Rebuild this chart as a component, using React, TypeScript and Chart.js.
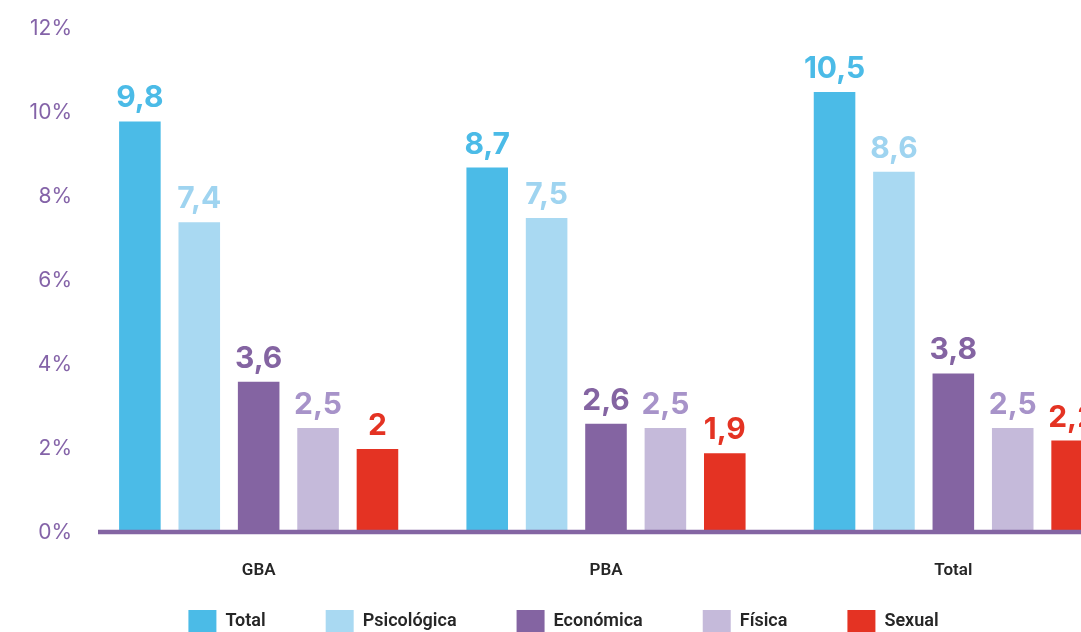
import React, { useEffect, useRef } from "react";
import { Chart, registerables } from "chart.js";

Chart.register(...registerables);

const categories = ["GBA", "PBA", "Total"];
const seriesNames = ["Total", "Psicológica", "Económica", "Física", "Sexual"];
const totalValues = [9.8, 8.7, 10.5];
const psicologicaValues = [7.4, 7.5, 8.6];
const economicaValues = [3.6, 2.6, 3.8];
const fisicaValues = [2.5, 2.5, 2.5];
const sexualValues = [2, 1.9, 2.2];
const yTicks = [0, 2, 4, 6, 8, 10, 12];

const barColors = ["#4BBBE7", "#A9D9F2", "#8464A2", "#C5BADA", "#E43323"];
const labelColors = ["#4BBBE7", "#9FD4F0", "#8464A2", "#A793C9", "#E43323"];

const CANVAS_W = 1130;
const CANVAS_H = 640;
const X_AXIS_H = 56;
const LEGEND_H = 51;
const LEGEND_PAD = 60;
const LEGEND_ITEMS_OFFSET = 77; // from plot bottom to legend boxes' top

const legendFitPlugin = {
  id: "legendFit",
  beforeLayout(chart: any) {
    const lg = chart.legend;
    if (lg && !lg._patched) {
      const orig = lg.fit.bind(lg);
      lg.fit = function () {
        orig();
        this.height = LEGEND_H;
      };
      lg._patched = true;
    }
  },
  beforeDraw(chart: any) {
    const lg = chart.legend;
    if (lg) {
      lg.top = chart.chartArea.bottom + LEGEND_ITEMS_OFFSET - LEGEND_PAD;
    }
  },
};

const valueLabelPlugin = {
  id: "valueLabels",
  afterDatasetsDraw(chart: any) {
    const ctx = chart.ctx;
    ctx.save();
    ctx.font = "700 30px Inter";
    ctx.textAlign = "center";
    ctx.textBaseline = "alphabetic";
    chart.data.datasets.forEach((ds: any, i: number) => {
      const meta = chart.getDatasetMeta(i);
      meta.data.forEach((el: any, j: number) => {
        const v = ds.data[j];
        ctx.fillStyle = labelColors[i];
        ctx.fillText(String(v).replace(".", ","), el.x, el.y - 14);
      });
    });
    ctx.restore();
  },
};

const axisLinePlugin = {
  id: "axisLine",
  afterDatasetsDraw(chart: any) {
    const { ctx, chartArea } = chart;
    const y = chart.scales.y.getPixelForValue(0) - 1;
    ctx.save();
    ctx.strokeStyle = "#8465A3";
    ctx.lineWidth = 4.5;
    ctx.beginPath();
    ctx.moveTo(chartArea.left + 13, y);
    ctx.lineTo(chartArea.right, y);
    ctx.stroke();
    ctx.restore();
  },
};

export default function App() {
  const ref = useRef<HTMLCanvasElement | null>(null);
  useEffect(() => {
    if (!ref.current) return;
    const values = [totalValues, psicologicaValues, economicaValues, fisicaValues, sexualValues];
    const chart = new Chart(ref.current, {
      type: "bar",
      data: {
        labels: categories,
        datasets: seriesNames.map((name, i) => ({
          label: name,
          data: values[i],
          backgroundColor: barColors[i],
          borderWidth: 0,
          categoryPercentage: 0.855,
          barPercentage: 0.7,
        })),
      },
      options: {
        responsive: false,
        animation: false,
        layout: { padding: { top: 29, left: 0, right: 3, bottom: 0 } },
        plugins: {
          tooltip: { enabled: false },
          legend: {
            position: "bottom",
            labels: {
              boxWidth: 28,
              boxHeight: 22,
              padding: LEGEND_PAD,
              color: "#262626",
              font: { family: "Roboto", size: 18, weight: "600" },
            },
          },
        },
        scales: {
          x: {
            grid: { display: false, drawTicks: false },
            border: { display: false },
            ticks: {
              padding: 28,
              color: "#262626",
              font: { family: "Roboto", size: 17, weight: "600" },
            },
            afterFit(scale: any) {
              scale.height = X_AXIS_H;
            },
          },
          y: {
            min: 0,
            max: 12,
            afterBuildTicks(scale: any) {
              scale.ticks = yTicks.map((v) => ({ value: v }));
            },
            grid: { display: false, drawTicks: false },
            border: { display: false },
            ticks: {
              padding: 13,
              color: "#8463A8",
              font: { family: "Inter", size: 21, weight: "400" },
              callback: (v: any) => v + "%",
            },
            afterFit(scale: any) {
              scale.width = 85;
            },
          },
        },
      },
      plugins: [legendFitPlugin, axisLinePlugin, valueLabelPlugin],
    } as any);
    return () => chart.destroy();
  }, []);

  return (
    <div
      style={{
        position: "absolute",
        left: 0,
        top: 0,
        width: 1081,
        height: 632,
        overflow: "hidden",
        background: "#ffffff",
      }}
    >
      <canvas ref={ref} width={CANVAS_W} height={CANVAS_H} style={{ display: "block" }} />
    </div>
  );
}
